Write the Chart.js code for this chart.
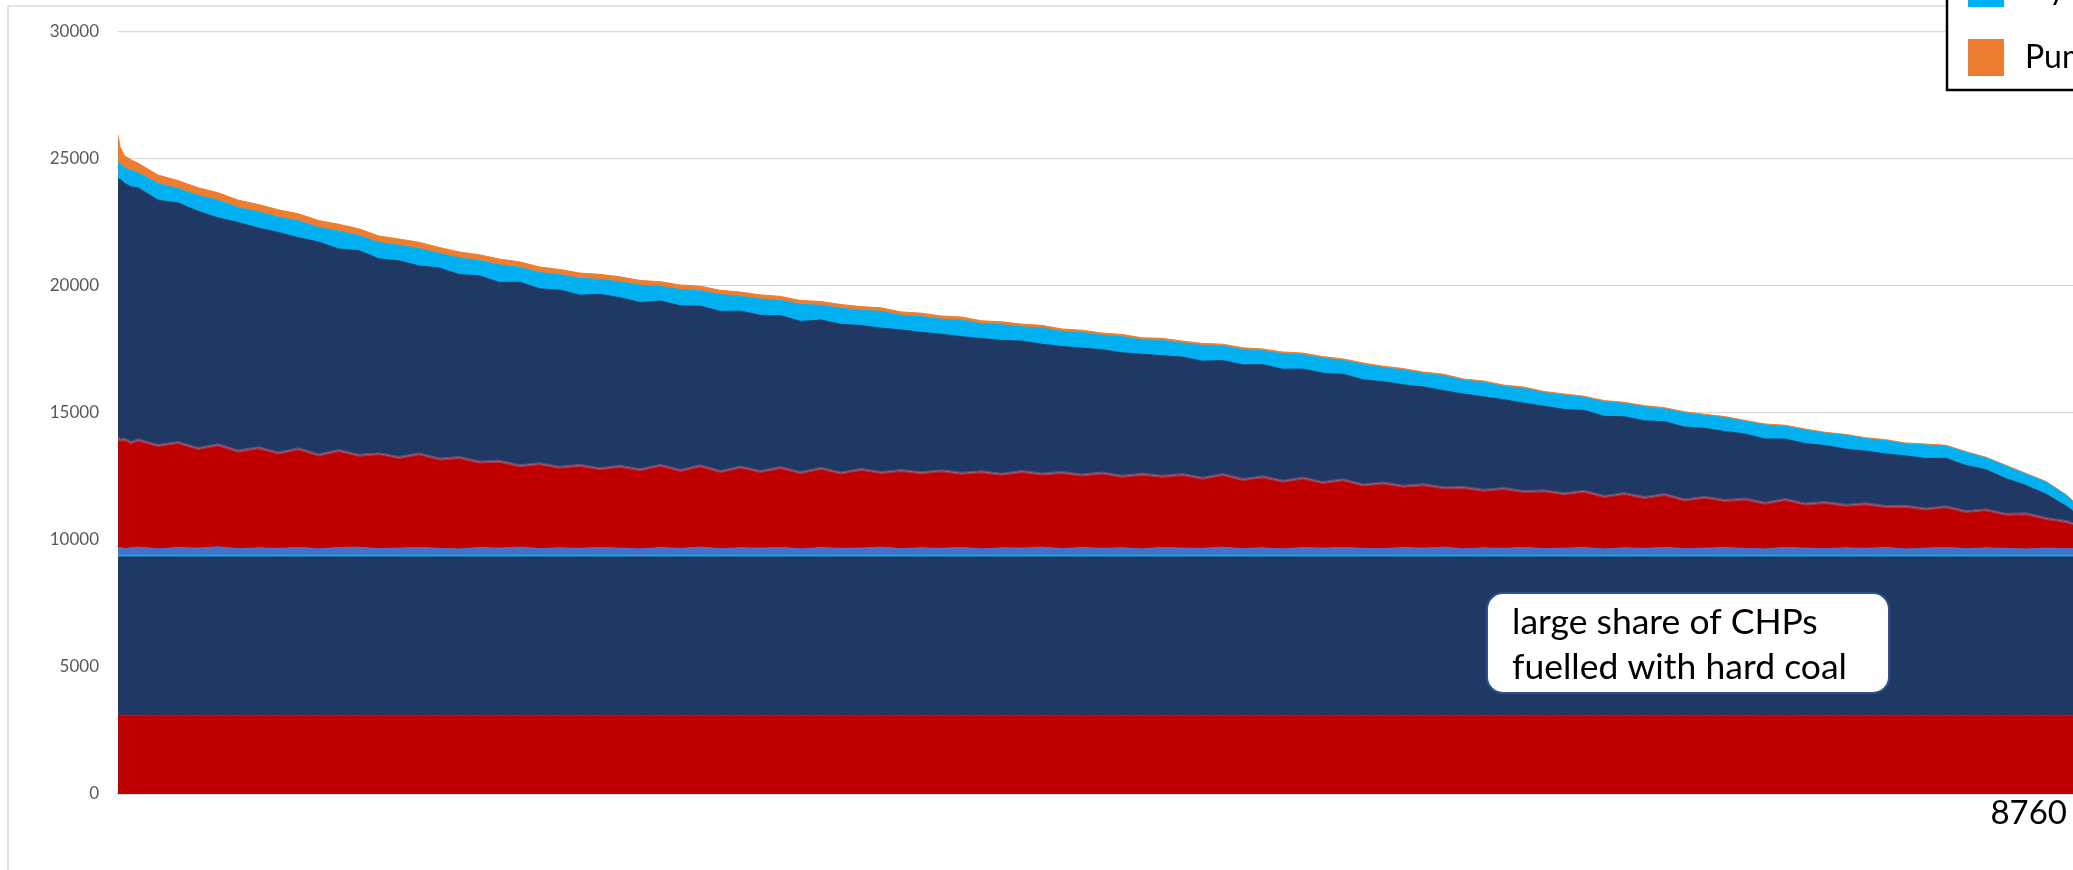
<!DOCTYPE html>
<html>
<head>
<meta charset="utf-8">
<title>Load duration curve by technology</title>
<script src="https://cdn.jsdelivr.net/npm/chart.js@4.4.1/dist/chart.umd.min.js"></script>
<style>
  html, body { margin: 0; padding: 0; background: #ffffff; overflow: hidden; }
  #wrap { width: 2073px; height: 870px; position: relative; }
  canvas { display: block; }
</style>
</head>
<body>
<div id="wrap"><canvas id="chart" width="2073" height="870"></canvas></div>
<script>
// Hours of the year, sorted by descending total load (duration curve)
const hours = [1, 10, 30, 60];
for (let h = 90; h <= 8730; h += 90) hours.push(h);
hours.push(8760);

// Flat bands (MW)
const nuclearLevel = 3100;   // bottom red band
const chpCoalLevel = 6230;   // hard-coal CHP band
const wasteLevel = 80;       // thin light-blue line

// Biomass band (MW)
const biomass = [
  260,300,250,280,310,240,290,270,320,250,
  280,260,300,240,290,310,250,270,300,260,
  240,290,270,310,250,280,260,300,270,240,
  290,260,310,250,280,270,300,240,290,260,
  270,310,250,280,260,300,240,280,270,310,
  250,290,260,280,240,300,270,260,310,250,
  280,240,290,270,300,260,250,290,270,310,
  240,280,260,300,250,270,290,240,280,260,
  300,250,270,290,260,240,300,270,250,280,
  260,290,240,270,300,250,280,260,240,270,
  250,260
];

// Gas (MW)
const gas = [
  4370,4220,4300,4140,4220,4070,4140,3920,4020,3840,
  3940,3760,3880,3700,3820,3620,3740,3570,3680,3520,
  3600,3370,3420,3200,3340,3170,3270,3100,3220,3120,
  3240,3070,3200,3040,3180,3020,3140,3000,3120,2970,
  3100,2940,3080,2960,3060,2920,3040,2900,3020,2880,
  3000,2860,2970,2820,2940,2800,2900,2760,2860,2720,
  2800,2660,2740,2580,2660,2500,2580,2420,2500,2340,
  2420,2270,2360,2200,2280,2140,2220,2060,2140,2000,
  2080,1920,2000,1860,1940,1800,1880,1740,1820,1680,
  1760,1620,1680,1540,1600,1460,1500,1340,1380,1170,
  1070,970
];

// Hard coal, condensing plants (MW)
const hardCoal = [
  10150,10280,10090,10070,9930,9660,9430,9340,8930,9000,
  8650,8680,8310,8380,7940,8050,7670,7740,7400,7520,
  7200,7330,7040,7230,6890,6980,6700,6860,6640,6580,
  6470,6480,6290,6300,6140,6145,5980,5955,5840,5850,
  5665,5680,5530,5525,5370,5375,5240,5265,5130,5105,
  4960,4995,4850,4860,4725,4745,4620,4610,4485,4515,
  4410,4410,4290,4305,4155,4135,3990,3990,3840,3820,
  3675,3675,3495,3475,3325,3320,3180,3160,3020,3020,
  2870,2865,2715,2715,2565,2525,2385,2375,2240,2210,
  2070,2070,1980,1990,1905,1815,1575,1405,1115,950,
  600,490
];

// Hydro (MW)
const hydro = [
  650,620,600,640,580,650,560,620,690,580,
  640,600,660,570,700,590,640,610,680,570,
  650,600,690,580,640,600,660,590,620,680,
  570,640,600,660,580,640,600,670,580,630,
  600,660,570,620,590,650,580,620,560,640,
  590,610,570,630,560,600,550,620,570,600,
  550,610,560,590,540,600,550,580,530,590,
  540,570,520,580,530,560,510,570,520,550,
  500,560,510,540,490,550,500,530,480,540,
  490,520,470,530,480,510,460,490,440,470,
  420,380
];

// Pumped storage (MW)
const pumpedStorage = [
  1100,650,480,420,390,340,320,310,300,300,
  290,290,280,280,270,270,260,250,250,240,
  240,230,230,220,220,210,210,200,200,190,
  190,180,180,170,170,165,160,155,150,150,
  145,140,140,135,130,125,120,115,110,105,
  100,95,90,90,85,85,80,80,75,75,
  70,70,70,65,65,65,60,60,60,60,
  55,55,55,55,55,50,50,50,50,50,
  50,45,45,45,45,45,45,45,40,40,
  40,40,40,40,35,35,35,35,35,30,
  30,30
];

const yTicks = [0, 5000, 10000, 15000, 20000, 25000, 30000];
const lastHourLabel = '8760';
const noteLines = ['large share of CHPs', 'fuelled with hard coal'];
const legendItems = [
  { label: 'Hydro', color: '#00B0F0' },
  { label: 'Pumped storage', color: '#ED7D31' }
];

const pts = values => values.map((v, i) => ({ x: hours[i], y: v }));
const flat = level => hours.map(h => ({ x: h, y: level }));

function area(label, data, color, first, border) {
  return {
    label, data,
    backgroundColor: color,
    borderColor: border ? border.color : color,
    borderWidth: border ? border.width : 1,
    fill: first ? 'origin' : '-1',
    pointRadius: 0,
    tension: 0
  };
}

const datasets = [
  area('Nuclear', flat(nuclearLevel), '#C00000', true),
  area('Hard coal CHP', flat(chpCoalLevel), '#203864'),
  area('Waste', flat(wasteLevel), '#1AA3EA'),
  area('Biomass', pts(biomass), '#4472C4'),
  area('Gas', pts(gas), '#C00000', false, { color: 'rgba(150,96,130,0.55)', width: 3 }),
  area('Hard coal', pts(hardCoal), '#203864'),
  area('Hydro', pts(hydro), '#00B0F0'),
  area('Pumped storage', pts(pumpedStorage), '#ED7D31')
];

const FONT = 'Lato, "Open Sans", sans-serif';

const decor = {
  id: 'decor',
  beforeDraw(chart) {
    const ctx = chart.ctx;
    ctx.save();
    ctx.strokeStyle = '#D9D9D9';
    ctx.lineWidth = 1.5;
    ctx.strokeRect(8, 6, 2300, 1200);
    ctx.restore();
  },
  afterDraw(chart) {
    const ctx = chart.ctx;
    ctx.save();
    // note box
    const bx = 1487, by = 593, bw = 402, bh = 100, r = 16;
    ctx.beginPath();
    ctx.roundRect(bx, by, bw, bh, r);
    ctx.fillStyle = '#FFFFFF';
    ctx.fill();
    ctx.lineWidth = 2;
    ctx.strokeStyle = '#2F528F';
    ctx.stroke();
    ctx.fillStyle = '#000000';
    ctx.font = '35.5px ' + FONT;
    ctx.textAlign = 'left';
    ctx.textBaseline = 'alphabetic';
    ctx.fillText(noteLines[0], 1512, 634);
    ctx.fillText(noteLines[1], 1512, 679);

    // last hour label
    ctx.font = '33px ' + FONT;
    ctx.textAlign = 'right';
    ctx.fillText(lastHourLabel, 2067, 824);

    // legend (box continues past the canvas edge)
    ctx.lineWidth = 2.5;
    ctx.strokeStyle = '#000000';
    ctx.fillStyle = '#FFFFFF';
    ctx.fillRect(1947, -200, 400, 290);
    ctx.strokeRect(1947, -200, 400, 290);
    ctx.font = '32px ' + FONT;
    ctx.textAlign = 'left';
    legendItems.forEach((it, i) => {
      const top = 39 - 69 * (legendItems.length - 1 - i);
      ctx.fillStyle = it.color;
      ctx.fillRect(1968, top, 36, 37);
      ctx.fillStyle = '#000000';
      ctx.fillText(it.label, 2025, top + 29);
    });
    ctx.restore();
  }
};

new Chart(document.getElementById('chart'), {
  type: 'line',
  data: { datasets },
  options: {
    responsive: false,
    animation: false,
    events: [],
    layout: { padding: { left: 0, top: 32, right: 0, bottom: 76 } },
    plugins: { legend: { display: false }, tooltip: { enabled: false } },
    scales: {
      x: {
        type: 'linear', min: 1, max: 8760,
        grid: { display: false, drawTicks: false },
        ticks: { display: false },
        border: { display: true, color: '#8FAADC', width: 1.2 }
      },
      y: {
        stacked: true, min: 0, max: 30000,
        afterBuildTicks(scale) { scale.ticks = yTicks.map(v => ({ value: v })); },
        afterFit(scale) { scale.width = 118; },
        ticks: {
          color: '#595959', font: { family: FONT, size: 17 }, padding: 19,
          callback: v => String(v)
        },
        grid: { color: '#D9D9D9', lineWidth: 1.3, drawTicks: false },
        border: { display: false }
      }
    }
  },
  plugins: [decor]
});
</script>
</body>
</html>
